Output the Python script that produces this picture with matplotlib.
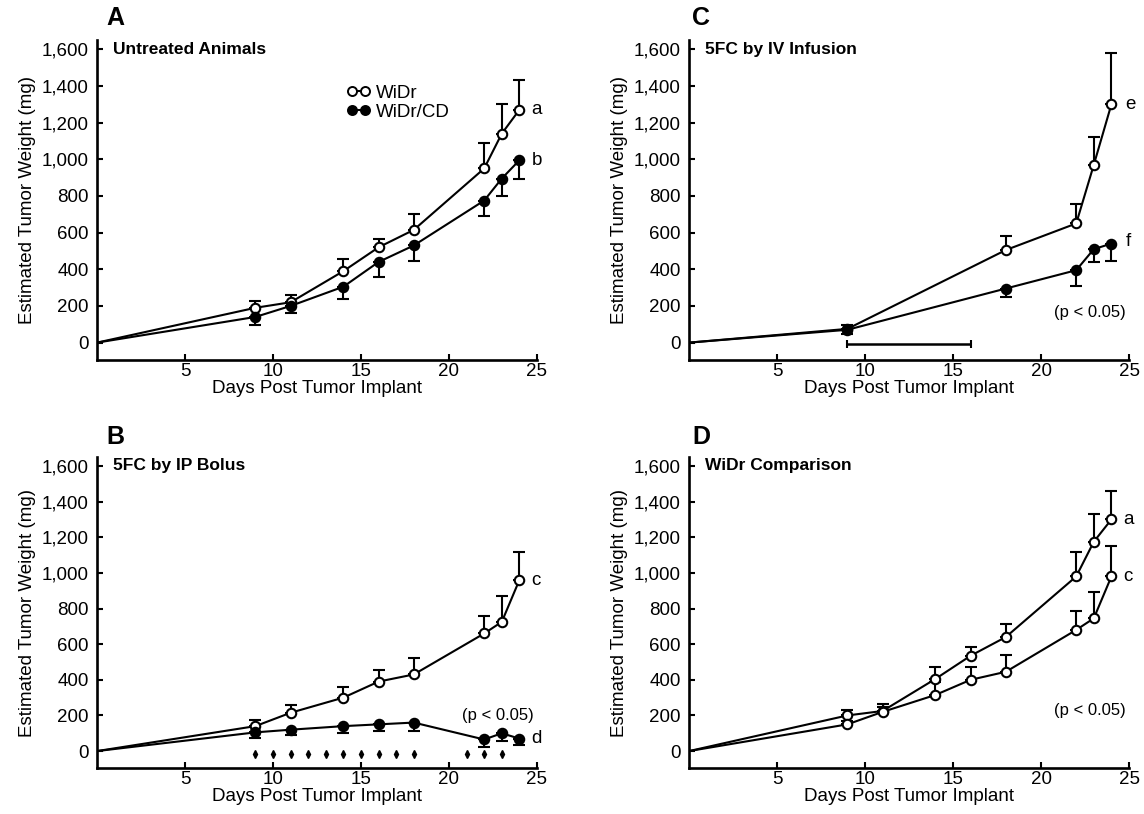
import matplotlib
matplotlib.use("Agg")
import matplotlib.pyplot as plt
from matplotlib.lines import Line2D

plt.rcParams["font.family"] = ["Liberation Sans", "DejaVu Sans"]

# days post implant (day 0 = implant, no marker)
days = [0, 9, 11, 14, 16, 18, 22, 23, 24]
days_iv = [0, 9, 18, 22, 23, 24]

# A: untreated
a_widr = [0, 190, 220, 390, 520, 615, 950, 1140, 1270]
a_widr_err = [0, 35, 40, 65, 45, 85, 140, 160, 160]
a_cd = [0, 140, 200, 305, 440, 530, 775, 895, 995]
a_cd_err = [0, 45, 40, 65, 80, 85, 85, 95, 100]

# B: 5FC by IP bolus
b_widr = [0, 140, 215, 300, 390, 430, 660, 725, 960]
b_widr_err = [0, 35, 45, 60, 65, 90, 100, 145, 160]
b_cd = [0, 105, 120, 140, 150, 160, 65, 100, 70]
b_cd_err = [0, 30, 30, 40, 40, 50, 40, 45, 35]
dose_days = [9, 10, 11, 12, 13, 14, 15, 16, 17, 18, 21, 22, 23]

# C: 5FC by IV infusion
c_widr = [0, 75, 505, 650, 970, 1300]
c_widr_err = [0, 20, 75, 105, 150, 280]
c_cd = [0, 70, 295, 395, 510, 540]
c_cd_err = [0, 25, 45, 85, 70, 95]
infusion = (9, 16)

# D: WiDr comparison (a = untreated, c = IP bolus)
d_a = [0, 200, 225, 405, 535, 640, 980, 1175, 1300]
d_a_err = [0, 30, 40, 65, 50, 75, 140, 155, 160]
d_c = [0, 150, 220, 315, 400, 445, 680, 745, 980]
d_c_err = [0, 20, 25, 70, 70, 95, 105, 150, 170]

yticks = [0, 200, 400, 600, 800, 1000, 1200, 1400, 1600]
ylabels = ["0", "200", "400", "600", "800", "1,000", "1,200", "1,400", "1,600"]
xticks = [5, 10, 15, 20, 25]

LW = 1.5
FS = 13.5


def series(ax, x, y, err, filled, up):
    ax.plot(x, y, color="black", lw=LW, zorder=2)
    e = [0] * (len(x) - 1)
    yerr = [e, err[1:]] if up else [err[1:], e]
    ax.errorbar(x[1:], y[1:], yerr=yerr, fmt="none", ecolor="black",
                elinewidth=LW, capsize=4, capthick=LW, zorder=1)
    ax.plot(x[1:], y[1:], "o", ms=6.8, mec="black", mew=1.5,
            mfc="black" if filled else "white", zorder=3)


def setup(ax, title):
    ax.set_xlim(0, 25)
    ax.set_ylim(-95, 1650)
    for s in ["top", "right"]:
        ax.spines[s].set_visible(False)
    for s in ["left", "bottom"]:
        ax.spines[s].set_linewidth(1.9)
    ax.set_yticks(yticks)
    ax.set_yticklabels(ylabels)
    ax.set_xticks(xticks)
    ax.tick_params(axis="both", direction="in", length=4, width=1.5, labelsize=FS)
    ax.tick_params(axis="x", pad=2)
    ax.tick_params(axis="y", pad=6)
    ax.set_ylabel("Estimated Tumor Weight (mg)", fontsize=FS, labelpad=4)
    ax.set_xlabel("Days Post Tumor Implant", fontsize=FS, labelpad=0)
    ax.text(0.9, 1600, title, fontsize=12.5, fontweight="bold", va="center", ha="left")


fig = plt.figure(figsize=(11.44, 8.14), dpi=100)
axA = fig.add_axes([0.0848, 0.5577, 0.3846, 0.393])
axB = fig.add_axes([0.0848, 0.0565, 0.3846, 0.382])
axC = fig.add_axes([0.6023, 0.5577, 0.3846, 0.393])
axD = fig.add_axes([0.6023, 0.0565, 0.3846, 0.382])

# A
setup(axA, "Untreated Animals")
series(axA, days, a_widr, a_widr_err, False, True)
series(axA, days, a_cd, a_cd_err, True, False)
axA.text(24.7, a_widr[-1], "a", fontsize=FS, va="center")
axA.text(24.7, a_cd[-1], "b", fontsize=FS, va="center")
h1 = Line2D([], [], color="black", lw=LW, marker="o", ms=6.5, mfc="white", mew=1.4)
h2 = Line2D([], [], color="black", lw=LW, marker="o", ms=6.5, mfc="black", mew=1.4)
axA.legend([h1, h2], ["WiDr", "WiDr/CD"], loc="upper left", bbox_to_anchor=(0.545, 0.89),
           frameon=False, numpoints=2, handlelength=1.3, handletextpad=0.3,
           borderpad=0, labelspacing=0.1, fontsize=FS)

# B
setup(axB, "5FC by IP Bolus")
series(axB, days, b_widr, b_widr_err, False, True)
series(axB, days, b_cd, b_cd_err, True, False)
axB.plot(dose_days, [-15] * len(dose_days), "d", ms=4, color="black")
axB.text(24.7, b_widr[-1], "c", fontsize=FS, va="center")
axB.text(24.7, b_cd[-1], "d", fontsize=FS, va="center")
axB.text(22.8, 200, "(p < 0.05)", fontsize=12, ha="center", va="center")

# C
setup(axC, "5FC by IV Infusion")
series(axC, days_iv, c_widr, c_widr_err, False, True)
series(axC, days_iv, c_cd, c_cd_err, True, False)
axC.errorbar((infusion[0] + infusion[1]) / 2, -5, xerr=(infusion[1] - infusion[0]) / 2,
             fmt="none", ecolor="black", elinewidth=1.8, capsize=3, capthick=1.5)
axC.text(24.8, c_widr[-1], "e", fontsize=FS, va="center")
axC.text(24.8, c_cd[-1] + 10, "f", fontsize=FS, va="center")
axC.text(22.8, 165, "(p < 0.05)", fontsize=12, ha="center", va="center")

# D
setup(axD, "WiDr Comparison")
series(axD, days, d_a, d_a_err, False, True)
series(axD, days, d_c, d_c_err, False, True)
axD.text(24.7, d_a[-1], "a", fontsize=FS, va="center")
axD.text(24.7, d_c[-1], "c", fontsize=FS, va="center")
axD.text(22.8, 230, "(p < 0.05)", fontsize=12, ha="center", va="center")

for letter, x, y in [("A", 0.093, 0.978), ("B", 0.093, 0.463), ("C", 0.605, 0.978), ("D", 0.605, 0.463)]:
    fig.text(x, y, letter, fontsize=18, fontweight="bold", ha="left", va="center")

fig.savefig("out.png", dpi=100)
